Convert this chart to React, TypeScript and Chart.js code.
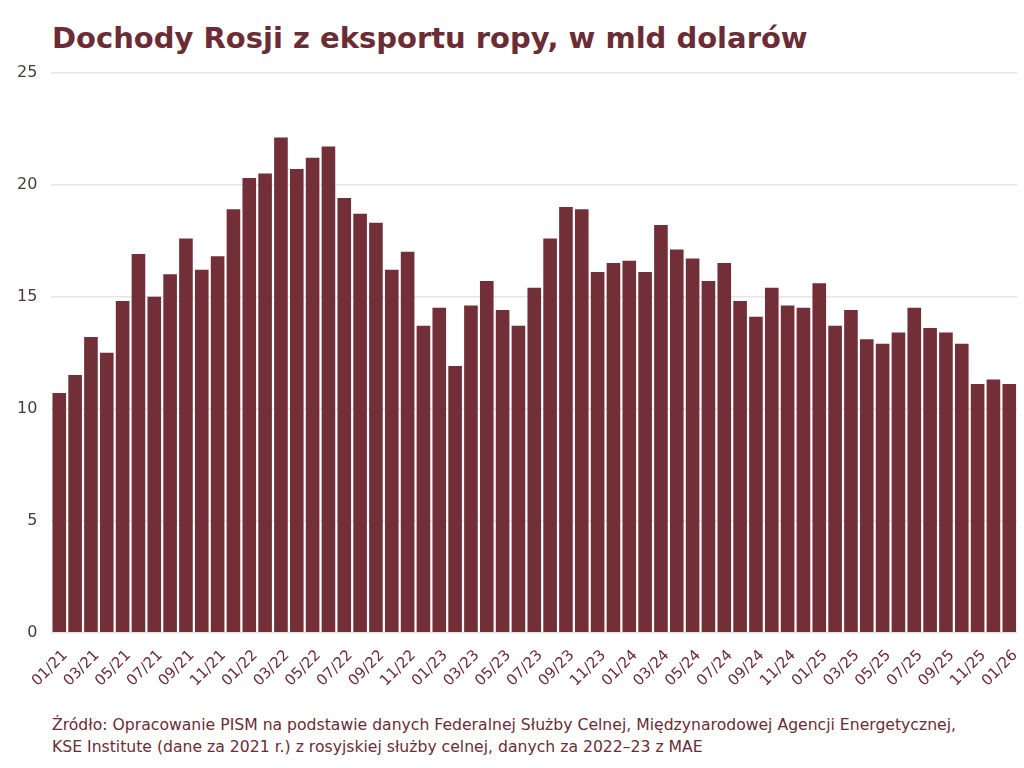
import React, { useEffect, useRef } from "react";
import { Chart, registerables } from "chart.js";

Chart.register(...registerables);

const TITLE = "Dochody Rosji z eksportu ropy, w mld dolarów";
const SOURCE_LINES = [
  "Źródło: Opracowanie PISM na podstawie danych Federalnej Służby Celnej, Międzynarodowej Agencji Energetycznej,",
  "KSE Institute (dane za 2021 r.) z rosyjskiej służby celnej, danych za 2022–23 z MAE",
];

const months = [
  "01/21","02/21","03/21","04/21","05/21","06/21","07/21","08/21","09/21","10/21","11/21","12/21",
  "01/22","02/22","03/22","04/22","05/22","06/22","07/22","08/22","09/22","10/22","11/22","12/22",
  "01/23","02/23","03/23","04/23","05/23","06/23","07/23","08/23","09/23","10/23","11/23","12/23",
  "01/24","02/24","03/24","04/24","05/24","06/24","07/24","08/24","09/24","10/24","11/24","12/24",
  "01/25","02/25","03/25","04/25","05/25","06/25","07/25","08/25","09/25","10/25","11/25","12/25",
  "01/26",
];

const revenue = [
  10.7, 11.5, 13.2, 12.5, 14.8, 16.9, 15.0, 16.0, 17.6, 16.2, 16.8, 18.9,
  20.3, 20.5, 22.1, 20.7, 21.2, 21.7, 19.4, 18.7, 18.3, 16.2, 17.0, 13.7,
  14.5, 11.9, 14.6, 15.7, 14.4, 13.7, 15.4, 17.6, 19.0, 18.9, 16.1, 16.5,
  16.6, 16.1, 18.2, 17.1, 16.7, 15.7, 16.5, 14.8, 14.1, 15.4, 14.6, 14.5,
  15.6, 13.7, 14.4, 13.1, 12.9, 13.4, 14.5, 13.6, 13.4, 12.9, 11.1, 11.3,
  11.1,
];

const yTicks = [0, 5, 10, 15, 20, 25];

const MAROON = "#722f38";
const TEXT = "#6b2c36";
const FONT = "'DejaVu Sans', 'Open Sans', sans-serif";

export default function App() {
  const canvasRef = useRef<HTMLCanvasElement | null>(null);

  useEffect(() => {
    if (!canvasRef.current) return;
    const chart = new Chart(canvasRef.current, {
      type: "bar",
      data: {
        labels: months,
        datasets: [
          {
            data: revenue,
            backgroundColor: MAROON,
            barPercentage: 0.86,
            categoryPercentage: 1,
          },
        ],
      },
      options: {
        animation: false,
        responsive: true,
        maintainAspectRatio: false,
        layout: { padding: { left: 3, right: 0, top: 0, bottom: 0 } },
        plugins: {
          legend: { display: false },
          tooltip: { enabled: false },
        },
        scales: {
          x: {
            grid: { display: false, drawTicks: false },
            border: { display: false },
            ticks: {
              autoSkip: false,
              maxRotation: 45,
              minRotation: 45,
              padding: 14,
              labelOffset: 6,
              color: TEXT,
              font: { family: FONT, size: 15 },
              callback: (_v: any, i: number) => (i % 2 === 0 ? months[i] : ""),
            },
          },
          y: {
            min: 0,
            max: 25,
            afterBuildTicks: (axis: any) => {
              axis.ticks = yTicks.map((v) => ({ value: v }));
            },
            grid: { color: "#e6e6e6", drawTicks: false, lineWidth: 1.5 },
            border: { display: false },
            ticks: {
              padding: 14,
              color: "#4a3b3d",
              font: { family: FONT, size: 16 },
            },
          },
        },
      },
    });
    return () => chart.destroy();
  }, []);

  return (
    <div
      style={{
        position: "fixed",
        left: 0,
        top: 0,
        width: 1024,
        height: 768,
        background: "#ffffff",
        fontFamily: FONT,
        overflow: "hidden",
      }}
    >
      <div
        style={{
          position: "absolute",
          left: 52,
          top: 18,
          fontSize: 29,
          fontWeight: 700,
          color: TEXT,
          lineHeight: "40px",
          whiteSpace: "nowrap",
        }}
      >
        {TITLE}
      </div>
      <div style={{ position: "absolute", left: 0, top: 49, width: 1036, height: 655 }}>
        <canvas ref={canvasRef} />
      </div>
      <div
        style={{
          position: "absolute",
          left: 52,
          top: 714,
          fontSize: 15.65,
          color: TEXT,
          lineHeight: "22px",
          whiteSpace: "nowrap",
        }}
      >
        {SOURCE_LINES.map((l, i) => (
          <div key={i}>{l}</div>
        ))}
      </div>
    </div>
  );
}
